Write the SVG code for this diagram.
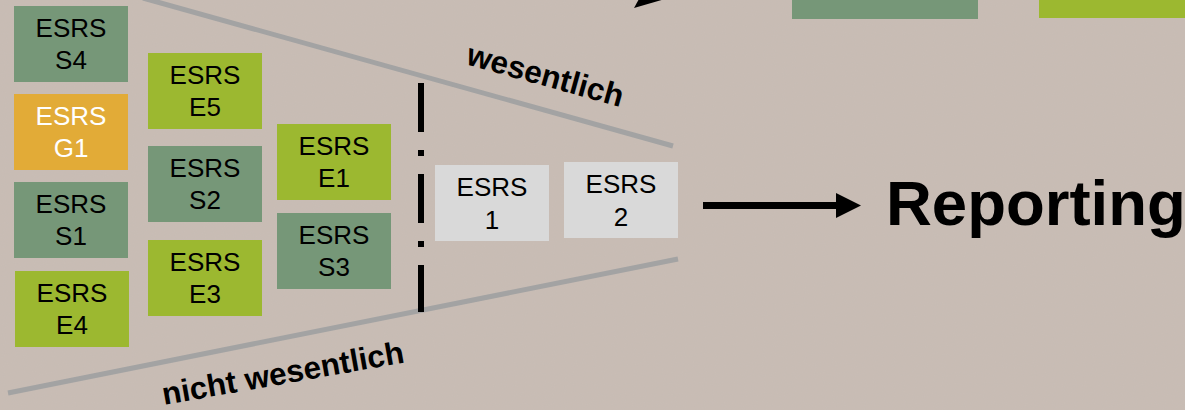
<svg xmlns="http://www.w3.org/2000/svg" width="1185" height="410" viewBox="0 0 1185 410">
  <defs>
    <filter id="grain" x="0" y="0" width="100%" height="100%">
      <feTurbulence type="fractalNoise" baseFrequency="0.9" numOctaves="2" seed="3" result="n"/>
      <feColorMatrix in="n" type="matrix" values="0 0 0 0 0.5  0 0 0 0 0.45  0 0 0 0 0.42  0 0 0 0.18 0"/>
    </filter>
    <style>
      .box rect { stroke: none; }
      .green rect { fill: #769778; }
      .lime rect { fill: #9cb830; }
      .orange rect { fill: #e2ab37; }
      .grey rect { fill: #d9d9d9; }
      .box text { font-family: "Liberation Sans", Arial, sans-serif; font-size: 26px; text-anchor: middle; fill: #000; }
      .orange text { fill: #ffffff; }
      .label { font-family: "Liberation Sans", Arial, sans-serif; font-weight: bold; fill: #000; }
      .edge { stroke: #a3a3a3; stroke-width: 5; fill: none; }
    </style>
  </defs>

  <rect width="1185" height="410" fill="#c9bdb5"/>
  <rect width="1185" height="410" filter="url(#grain)"/>

  <!-- top partial boxes -->
  <g id="top-green" class="box green"><rect x="792" y="-5" width="186" height="24"/></g>
  <g id="top-lime" class="box lime"><rect x="1039" y="-5" width="150" height="23"/></g>

  <g id="connectors">
    <line class="edge" x1="143" y1="-2" x2="673" y2="146"/>
    <line class="edge" x1="8" y1="393" x2="678" y2="259"/>
    <line x1="421" y1="83" x2="421" y2="312" stroke="#000" stroke-width="6" stroke-dasharray="49 18 6 18"/>
    <line x1="703" y1="205.5" x2="838" y2="205.5" stroke="#000" stroke-width="7"/>
    <polygon points="836,193 861,205.5 836,218" fill="#000"/>
    <polygon points="634,8 639,-1 665,-1" fill="#000"/>
  </g>

  <g id="S4" class="box green"><rect x="14" y="6" width="114" height="76"/><text x="71" y="37">ESRS</text><text x="71" y="69">S4</text></g>
  <g id="G1" class="box orange"><rect x="14" y="94" width="114" height="76"/><text x="71" y="125">ESRS</text><text x="71" y="157">G1</text></g>
  <g id="S1" class="box green"><rect x="14" y="182" width="114" height="76"/><text x="71" y="213">ESRS</text><text x="71" y="245">S1</text></g>
  <g id="E4" class="box lime"><rect x="15" y="271" width="114" height="76"/><text x="72" y="302">ESRS</text><text x="72" y="334">E4</text></g>

  <g id="E5" class="box lime"><rect x="148" y="53" width="114" height="76"/><text x="205" y="84">ESRS</text><text x="205" y="116">E5</text></g>
  <g id="S2" class="box green"><rect x="148" y="146" width="114" height="76"/><text x="205" y="177">ESRS</text><text x="205" y="209">S2</text></g>
  <g id="E3" class="box lime"><rect x="148" y="240" width="114" height="76"/><text x="205" y="271">ESRS</text><text x="205" y="303">E3</text></g>

  <g id="E1" class="box lime"><rect x="277" y="124" width="114" height="76"/><text x="334" y="155">ESRS</text><text x="334" y="187">E1</text></g>
  <g id="S3" class="box green"><rect x="277" y="213" width="114" height="76"/><text x="334" y="244">ESRS</text><text x="334" y="276">S3</text></g>

  <g id="ESRS1" class="box grey"><rect x="435" y="165" width="114" height="76"/><text x="492" y="196">ESRS</text><text x="492" y="229">1</text></g>
  <g id="ESRS2" class="box grey"><rect x="564" y="162" width="114" height="76"/><text x="621" y="193">ESRS</text><text x="621" y="226">2</text></g>

  <g id="label-wesentlich"><text class="label" font-size="31.5" transform="translate(465,64) rotate(15.5)">wesentlich</text></g>
  <g id="label-nicht-wesentlich"><text class="label" font-size="31.5" transform="translate(164,405) rotate(-10)">nicht wesentlich</text></g>
  <g id="Reporting"><text class="label" font-size="63.5" x="886" y="225">Reporting</text></g>
</svg>
